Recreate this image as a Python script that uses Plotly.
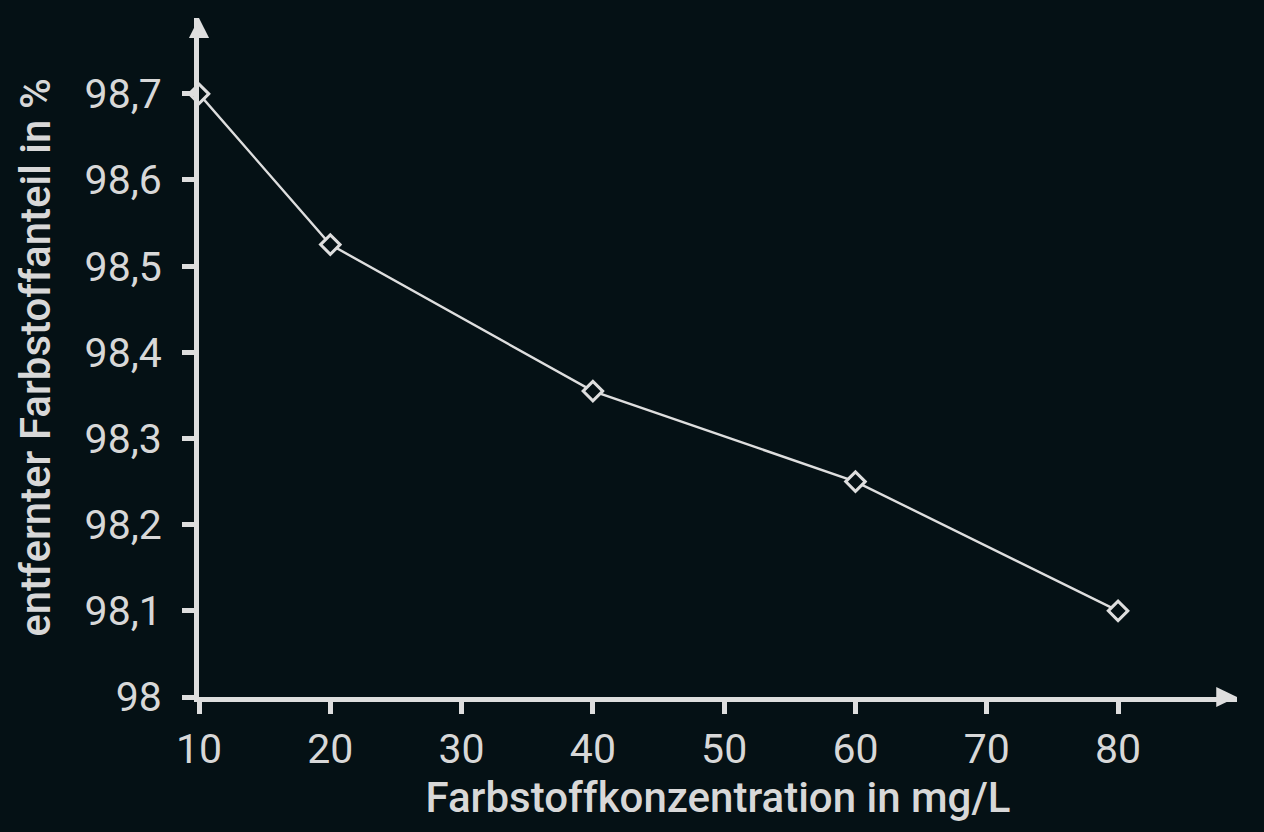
import plotly.graph_objects as go

konzentration = [10, 20, 40, 60, 80]
entfernt = [98.7, 98.525, 98.355, 98.25, 98.1]

x_ticks = [10, 20, 30, 40, 50, 60, 70, 80]
y_ticks = [98.0, 98.1, 98.2, 98.3, 98.4, 98.5, 98.6, 98.7]
y_ticklabels = ["98", "98,1", "98,2", "98,3", "98,4", "98,5", "98,6", "98,7"]

x_title = "Farbstoffkonzentration in mg/L"
y_title = "entfernter Farbstoffanteil in %"

BG = "#051115"
FG = "#dedede"
TXT = "#d8d8d8"

fig = go.Figure()
fig.add_trace(go.Scatter(
    x=konzentration, y=entfernt, mode="lines+markers",
    line=dict(color=FG, width=2.4),
    marker=dict(symbol="diamond", size=15, color=BG, line=dict(color=FG, width=3)),
    cliponaxis=False, showlegend=False,
))

axis_common = dict(
    showline=True, linecolor=FG, linewidth=5,
    ticks="outside", ticklen=12, tickwidth=5, tickcolor=FG,
    showgrid=False, zeroline=False,
    tickfont=dict(family="Roboto", size=41, color=TXT),
)

fig.update_xaxes(
    range=[10, 89.06], tickvals=x_ticks, ticktext=[str(v) for v in x_ticks],
    title=dict(text=x_title, font=dict(family="Roboto", size=42, color=TXT, weight=500), standoff=10),
    ticklabelstandoff=0,
    **axis_common,
)
fig.update_yaxes(
    range=[98, 98.788], tickvals=y_ticks, ticktext=y_ticklabels,
    title=dict(text=y_title, font=dict(family="Roboto", size=42, color=TXT, weight=500), standoff=22),
    ticklabelstandoff=12,
    **axis_common,
)

# arrowheads at the axis ends
fig.add_shape(type="path", xref="x domain", yref="paper",
              path="M 1.0,0 L 0.98,0.0147 L 0.98,-0.0147 Z",
              fillcolor=FG, line=dict(width=0), layer="above")
fig.add_shape(type="path", xref="paper", yref="y domain",
              path="M 0,1.0 L 0.0097,0.9705 L -0.0097,0.9705 Z",
              fillcolor=FG, line=dict(width=0), layer="above")

fig.update_layout(
    width=1264, height=832,
    margin=dict(l=199, r=27, t=18, b=135),
    paper_bgcolor=BG, plot_bgcolor=BG,
)

fig.write_html(
    "out.html",
    config={"displayModeBar": False},
    post_script="document.body.style.margin='0';document.body.style.background='#051115';",
)
